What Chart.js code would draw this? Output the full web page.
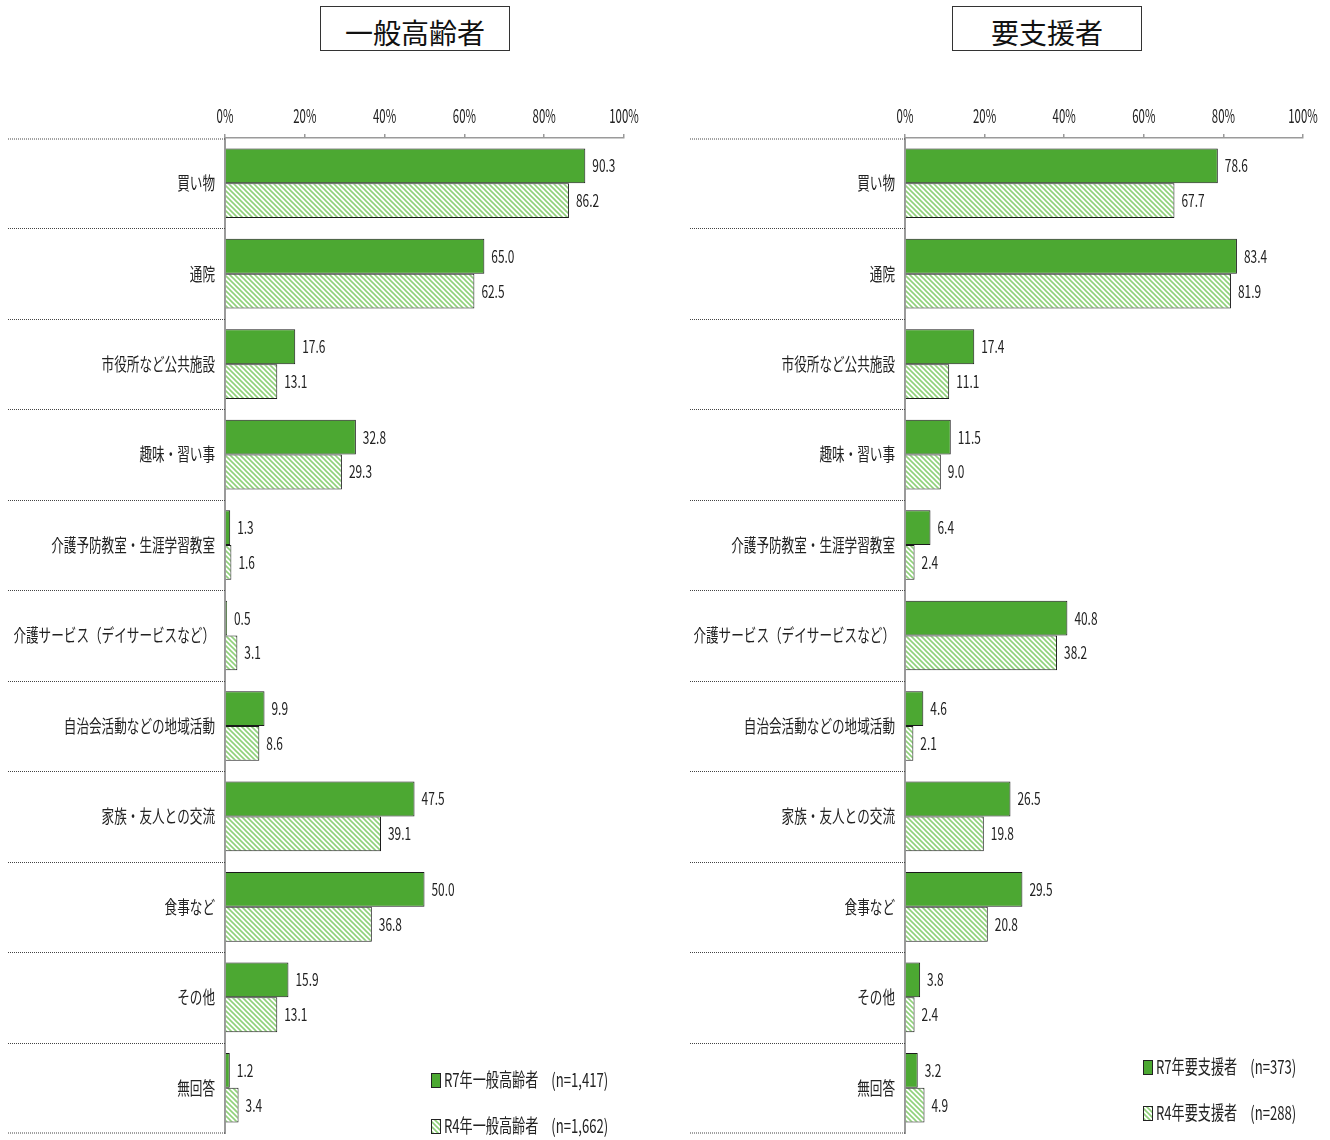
<!DOCTYPE html>
<html lang="ja">
<head>
<meta charset="utf-8">
<title>外出の目的</title>
<script src="https://cdn.jsdelivr.net/npm/chart.js@4.4.1/dist/chart.umd.min.js"></script>
<style>
    body { margin: 0; background: #fff; font-family: "Noto Sans CJK JP", sans-serif; }
    #page { position: relative; width: 1330px; height: 1140px; }
    canvas { position: absolute; top: 0; }
    .title-box {
        position: absolute; top: 6px; width: 188px; height: 43px;
        border: 1.5px solid #333; text-align: center;
        font-size: 28px; line-height: 50px; color: #111; overflow: hidden;
    }
</style>
</head>
<body>
<div id="page">
    <div class="title-box" style="left:320px;">一般高齢者</div>
    <div class="title-box" style="left:952px;">要支援者</div>
    <canvas id="leftChart" width="665" height="1140" style="left:0;"></canvas>
    <canvas id="rightChart" width="665" height="1140" style="left:665px;"></canvas>
</div>
<script>
const categories = [
    '買い物', '通院', '市役所など公共施設', '趣味・習い事', '介護予防教室・生涯学習教室',
    '介護サービス（デイサービスなど）', '自治会活動などの地域活動', '家族・友人との交流',
    '食事など', 'その他', '無回答'
];
const xTicks = [0, 20, 40, 60, 80, 100];

// 一般高齢者
const generalR7 = [90.3, 65.0, 17.6, 32.8, 1.3, 0.5, 9.9, 47.5, 50.0, 15.9, 1.2];
const generalR4 = [86.2, 62.5, 13.1, 29.3, 1.6, 3.1, 8.6, 39.1, 36.8, 13.1, 3.4];
const generalLabels = ['R7年一般高齢者　(n=1,417)', 'R4年一般高齢者　(n=1,662)'];

// 要支援者
const supportR7 = [78.6, 83.4, 17.4, 11.5, 6.4, 40.8, 4.6, 26.5, 29.5, 3.8, 3.2];
const supportR4 = [67.7, 81.9, 11.1, 9.0, 2.4, 38.2, 2.1, 19.8, 20.8, 2.4, 4.9];
const supportLabels = ['R7年要支援者　(n=373)', 'R4年要支援者　(n=288)'];

const GREEN = '#4ca832';
const HATCH = '#8fd17a';
const FONT = '"Noto Sans CJK JP", sans-serif';

function makeHatch() {
    const s = 5;
    const c = document.createElement('canvas');
    c.width = s; c.height = s;
    const g = c.getContext('2d');
    g.fillStyle = '#fff';
    g.fillRect(0, 0, s, s);
    g.strokeStyle = HATCH;
    g.lineWidth = 1.6;
    g.beginPath();
    g.moveTo(-1, -1); g.lineTo(s + 1, s + 1);
    g.moveTo(-1, s - 1); g.lineTo(1, s + 1);
    g.moveTo(s - 1, -1); g.lineTo(s + 1, 1);
    g.stroke();
    return g.createPattern(c, 'repeat');
}

// condensed text, the original uses a narrow Japanese face
function drawNarrow(ctx, text, x, y, align, size, sx) {
    ctx.save();
    ctx.translate(x, y);
    ctx.scale(sx, 1);
    ctx.font = size + 'px ' + FONT;
    ctx.fillStyle = '#222';
    ctx.textAlign = align;
    ctx.textBaseline = 'middle';
    ctx.fillText(text, 0, 0);
    ctx.restore();
}

const decorPlugin = {
    id: 'decor',
    afterDraw(chart, args, opts) {
        const ctx = chart.ctx;
        const area = chart.chartArea;
        const xs = chart.scales.x;
        const ys = chart.scales.y;

        // x tick labels
        xTicks.forEach(v => {
            drawNarrow(ctx, v + '%', xs.getPixelForValue(v), 116, 'center', 19, 0.6);
        });

        // dotted separators in the label column
        ctx.save();
        ctx.strokeStyle = '#444';
        ctx.lineWidth = 1;
        ctx.setLineDash([1, 1]);
        const n = categories.length;
        for (let i = 0; i <= n; i++) {
            let y;
            if (i === 0) y = area.top + 1;
            else if (i === n) y = area.bottom;
            else y = Math.round((ys.getPixelForTick(i - 1) + ys.getPixelForTick(i)) / 2) + 0.5;
            ctx.beginPath();
            ctx.moveTo(opts.sepStart, y);
            ctx.lineTo(area.left, y);
            ctx.stroke();
        }
        ctx.restore();

        // category labels
        categories.forEach((c, i) => {
            drawNarrow(ctx, c, area.left - 10, ys.getPixelForTick(i), 'right', 18, 0.7);
        });

        // value labels
        chart.data.datasets.forEach((ds, di) => {
            const meta = chart.getDatasetMeta(di);
            meta.data.forEach((bar, i) => {
                drawNarrow(ctx, ds.data[i].toFixed(1), bar.x + 7, bar.y, 'left', 17, 0.7);
            });
        });

        // legend
        chart.data.datasets.forEach((ds, di) => {
            const lx = opts.legendX;
            const ly = opts.legendY[di];
            ctx.save();
            ctx.fillStyle = ds.backgroundColor;
            ctx.fillRect(lx, ly - 7, 9, 14);
            ctx.strokeStyle = '#222';
            ctx.lineWidth = 1;
            ctx.strokeRect(lx + 0.5, ly - 6.5, 9, 14);
            ctx.restore();
            drawNarrow(ctx, ds.label, lx + 13, ly, 'left', 19, 0.69);
        });
    }
};

function buildChart(id, r7, r4, labels, padRight, sepStart, legendX, legendY) {
    const ctx = document.getElementById(id).getContext('2d');
    return new Chart(ctx, {
        type: 'bar',
        data: {
            labels: categories,
            datasets: [
                {
                    label: labels[0],
                    data: r7,
                    backgroundColor: GREEN,
                    borderColor: '#1a1a1a',
                    borderWidth: 1
                },
                {
                    label: labels[1],
                    data: r4,
                    backgroundColor: makeHatch(),
                    borderColor: '#1a1a1a',
                    borderWidth: 1
                }
            ]
        },
        options: {
            indexAxis: 'y',
            responsive: false,
            animation: false,
            datasets: {
                bar: { categoryPercentage: 0.77, barPercentage: 1.0 }
            },
            layout: { padding: { left: 0, top: 0, right: padRight, bottom: 7 } },
            scales: {
                x: {
                    position: 'top',
                    min: 0,
                    max: 100,
                    ticks: { display: false, stepSize: 20 },
                    grid: { drawOnChartArea: false, drawTicks: true, tickLength: 4, color: '#9a9a9a', lineWidth: 1.5 },
                    border: { display: true, color: '#9a9a9a', width: 1.5 },
                    afterFit: axis => { axis.height = 138; }
                },
                y: {
                    ticks: { display: false },
                    grid: { drawOnChartArea: false, drawTicks: false },
                    border: { display: true, color: '#9a9a9a', width: 2 },
                    afterFit: axis => { axis.width = sepStart === 8 ? 225 : 240; }
                }
            },
            plugins: {
                legend: { display: false },
                tooltip: { enabled: false },
                decor: { sepStart: sepStart, legendX: legendX, legendY: legendY }
            }
        },
        plugins: [decorPlugin]
    });
}

buildChart('leftChart', generalR7, generalR4, generalLabels, 41, 8, 431, [1080, 1126]);
buildChart('rightChart', supportR7, supportR4, supportLabels, 27, 25, 478, [1067, 1113]);
</script>
</body>
</html>
